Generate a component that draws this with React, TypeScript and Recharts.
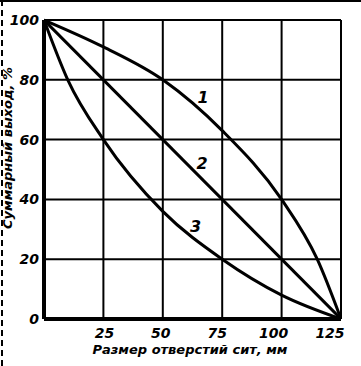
import React from 'react';
import { LineChart, Line, XAxis, YAxis, CartesianGrid, ReferenceDot } from 'recharts';

const xTicks = [0, 25, 50, 75, 100, 125];
const yTicks = [0, 20, 40, 60, 80, 100];

const curve1X = [0, 25, 50, 75, 100, 115, 125];
const curve1Y = [100, 91, 80, 63, 40, 20, 0];

const curve2X = [0, 125];
const curve2Y = [100, 0];

const curve3X = [0, 10, 25, 50, 75, 100, 125];
const curve3Y = [100, 80, 60, 36, 20, 8, 0];

const curveNames = ['1', '2', '3'];
const labelX = [67, 66.5, 63.8];
const labelY = [74, 52, 31];

const yTitle = 'Суммарный выход, %';
const xTitle = 'Размер отверстий сит, мм';

const toData = (xs: number[], ys: number[]) => xs.map((x, i) => ({ x, y: ys[i] }));

const FONT = '"DejaVu Sans", sans-serif';

const XTick = (props: any) => {
  const { x, y, payload } = props;
  if (payload.value === 0) return null;
  const dx = 4 - payload.value * 0.12;
  return (
    <text x={x + dx} y={y + 11} textAnchor="middle" fontFamily={FONT} fontStyle="italic" fontWeight="bold" fontSize={14} fill="#000">
      {payload.value}
    </text>
  );
};

const YTick = (props: any) => {
  const { x, y, payload } = props;
  return (
    <text x={x + 3} y={y + 5} textAnchor="end" fontFamily={FONT} fontStyle="italic" fontWeight="bold" fontSize={14} fill="#000">
      {payload.value}
    </text>
  );
};

export default function App() {
  return (
    <div style={{ position: 'fixed', left: 0, top: 0, width: 361, height: 366, background: '#fff' }}>
      <LineChart width={361} height={366} margin={{ top: 20, right: 20, left: 0, bottom: 0 }}>
        <CartesianGrid stroke="#000" strokeWidth={2} horizontalValues={yTicks} verticalValues={xTicks} />
        <XAxis
          type="number"
          dataKey="x"
          domain={[0, 125]}
          ticks={xTicks}
          height={47}
          tick={<XTick />}
          tickLine={false}
          axisLine={{ stroke: '#000', strokeWidth: 4 }}
          allowDataOverflow
        />
        <YAxis
          type="number"
          dataKey="y"
          domain={[0, 100]}
          ticks={yTicks}
          width={44}
          tick={<YTick />}
          tickLine={false}
          axisLine={{ stroke: '#000', strokeWidth: 4 }}
        />
        <Line data={toData(curve1X, curve1Y)} dataKey="y" type="monotone" stroke="#000" strokeWidth={3} dot={false} isAnimationActive={false} />
        <Line data={toData(curve2X, curve2Y)} dataKey="y" type="linear" stroke="#000" strokeWidth={3} dot={false} isAnimationActive={false} />
        <Line data={toData(curve3X, curve3Y)} dataKey="y" type="monotone" stroke="#000" strokeWidth={3} dot={false} isAnimationActive={false} />
        {curveNames.map((n, i) => (
          <ReferenceDot
            key={n}
            x={labelX[i]}
            y={labelY[i]}
            r={0}
            stroke="none"
            fill="none"
            label={{ value: n, position: 'center', fontFamily: FONT, fontStyle: 'italic', fontWeight: 'bold', fontSize: 16, fill: '#000' }}
          />
        ))}
        <text x={190} y={354} textAnchor="middle" fontFamily={FONT} fontStyle="italic" fontWeight="bold" fontSize={13} fill="#000">
          {xTitle}
        </text>
        <text x={12} y={148} transform="rotate(-90 12 148)" textAnchor="middle" fontFamily={FONT} fontStyle="italic" fontWeight="bold" fontSize={13} fill="#000">
          {yTitle}
        </text>
      </LineChart>
      <div style={{ position: 'absolute', left: 0, top: 0, width: 361, height: 2, background: '#000' }} />
      <div style={{ position: 'absolute', left: 1, top: 0, width: 0, height: 366, borderLeft: '2px dashed #000' }} />
    </div>
  );
}
